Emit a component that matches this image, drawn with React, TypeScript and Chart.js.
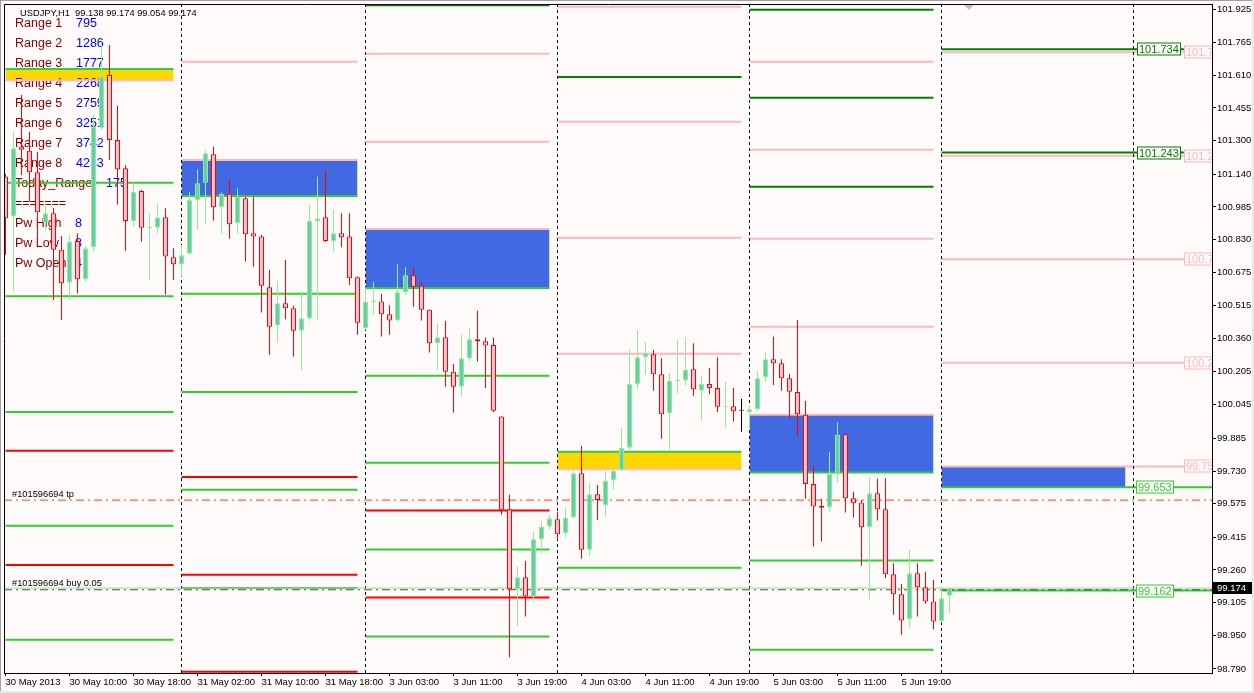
import React, { useEffect, useRef } from "react";
import { Chart, registerables } from "chart.js";

Chart.register(...registerables);

// ---------------- data ----------------
const titleText = "USDJPY,H1  99.138 99.174 99.054 99.174";

// H1 bars, index 0 = 30 May 2013 02:00 ... index 118 = 6 Jun 2013 01:00
const opens = [
  101.129, 100.939, 101.271, 101.252, 101.150, 100.910, 100.955, 100.781, 100.625, 100.823,
  100.641, 100.793, 101.361, 101.612, 101.303, 101.169, 100.918, 101.061, 100.884, 100.886,
  100.936, 100.746, 100.713, 100.762, 101.018, 101.100, 101.235, 100.983, 101.047, 100.907,
  101.026, 100.860, 100.844, 100.603, 100.421, 100.527, 100.504, 100.397, 100.456, 100.918,
  100.936, 100.823, 100.860, 100.844, 100.651, 100.409, 100.532, 100.535, 100.475, 100.445,
  100.580, 100.660, 100.610, 100.496, 100.337, 100.366, 100.202, 100.131, 100.266, 100.356,
  100.347, 100.329, 99.989, 99.549, 99.169, 99.226, 99.134, 99.406, 99.466, 99.501,
  99.435, 99.509, 99.720, 99.356, 99.620, 99.569, 99.685, 99.736, 99.841, 100.143,
  100.271, 100.285, 100.190, 100.005, 100.158, 100.162, 100.214, 100.112, 100.144, 100.124,
  100.036, 100.038, 100.016, 100.011, 100.024, 100.176, 100.261, 100.242, 100.171, 100.105,
  99.997, 99.668, 99.565, 99.558, 99.717, 99.905, 99.601, 99.580, 99.463, 99.625,
  99.549, 99.240, 99.145, 99.026, 99.245, 99.178, 99.110, 99.015, 99.138,
];
const highs = [
  101.142, 101.342, 101.517, 101.342, 101.246, 101.004, 100.980, 100.847, 100.852, 100.860,
  100.800, 101.422, 101.770, 101.754, 101.465, 101.184, 101.104, 101.066, 100.955, 101.002,
  100.979, 100.789, 100.804, 101.057, 101.164, 101.252, 101.271, 101.053, 101.118, 101.074,
  101.034, 101.034, 100.852, 100.686, 100.633, 100.733, 100.515, 100.582, 100.994, 101.129,
  101.161, 100.971, 100.955, 100.955, 100.654, 100.603, 100.630, 100.572, 100.518, 100.714,
  100.698, 100.701, 100.630, 100.497, 100.429, 100.443, 100.239, 100.377, 100.409, 100.491,
  100.364, 100.364, 99.990, 99.617, 99.276, 99.303, 99.442, 99.490, 99.522, 99.537,
  99.554, 99.732, 99.850, 99.672, 99.664, 99.731, 99.751, 99.934, 100.306, 100.401,
  100.342, 100.306, 100.266, 100.195, 100.353, 100.366, 100.337, 100.182, 100.219, 100.271,
  100.155, 100.124, 100.073, 100.043, 100.207, 100.293, 100.369, 100.261, 100.192, 100.448,
  100.063, 99.756, 99.598, 99.822, 99.962, 99.906, 99.632, 99.593, 99.701, 99.693,
  99.696, 99.292, 99.194, 99.356, 99.292, 99.252, 99.213, 99.185, 99.174,
];
const lows = [
  100.757, 100.582, 101.137, 101.010, 100.804, 100.876, 100.543, 100.448, 100.543, 100.575,
  100.630, 100.772, 101.351, 101.208, 100.996, 100.777, 100.891, 100.820, 100.638, 100.860,
  100.567, 100.638, 100.654, 100.757, 100.876, 100.904, 100.920, 100.860, 100.833, 100.860,
  100.725, 100.701, 100.483, 100.282, 100.340, 100.451, 100.274, 100.207, 100.445, 100.448,
  100.819, 100.772, 100.793, 100.614, 100.377, 100.401, 100.472, 100.369, 100.377, 100.440,
  100.567, 100.511, 100.445, 100.293, 100.211, 100.131, 100.008, 100.084, 100.250, 100.250,
  100.124, 100.011, 99.522, 98.846, 98.991, 99.039, 99.110, 99.340, 99.451, 99.403,
  99.416, 99.503, 99.313, 99.327, 99.498, 99.514, 99.641, 99.733, 99.831, 100.119,
  100.187, 100.112, 99.883, 99.835, 100.100, 100.139, 100.088, 99.970, 100.095, 100.010,
  99.936, 99.965, 99.917, 99.941, 100.012, 100.155, 100.139, 100.112, 99.981, 99.897,
  99.598, 99.371, 99.395, 99.537, 99.675, 99.533, 99.509, 99.280, 99.121, 99.495,
  99.221, 99.047, 98.952, 98.988, 99.039, 99.099, 98.979, 99.010, 99.054,
];
const closes = [
  100.931, 101.264, 101.256, 101.150, 100.960, 100.955, 100.781, 100.622, 100.820, 100.641,
  100.789, 101.366, 101.604, 101.303, 101.164, 100.918, 101.057, 100.886, 100.891, 100.934,
  100.749, 100.713, 100.755, 101.018, 101.097, 101.240, 100.983, 101.047, 100.903, 101.034,
  100.855, 100.844, 100.610, 100.416, 100.527, 100.504, 100.397, 100.456, 100.918, 100.931,
  100.823, 100.860, 100.841, 100.646, 100.435, 100.535, 100.540, 100.475, 100.445, 100.580,
  100.660, 100.606, 100.496, 100.337, 100.366, 100.202, 100.131, 100.266, 100.356, 100.347,
  100.326, 100.017, 99.546, 99.169, 99.226, 99.134, 99.406, 99.466, 99.506, 99.430,
  99.509, 99.720, 99.356, 99.620, 99.593, 99.685, 99.732, 99.841, 100.143, 100.271,
  100.290, 100.190, 100.000, 100.160, 100.163, 100.211, 100.119, 100.143, 100.124, 100.036,
  100.040, 100.014, 100.016, 100.023, 100.171, 100.261, 100.242, 100.171, 100.107, 100.000,
  99.668, 99.561, 99.556, 99.717, 99.902, 99.601, 99.577, 99.463, 99.625, 99.549,
  99.240, 99.145, 99.020, 99.245, 99.178, 99.110, 99.015, 99.126, 99.174,
];

const xTickBars = [0, 8, 16, 24, 32, 40, 48, 56, 64, 72, 80, 88, 96, 104, 112];
const xTickLabels = [
  "30 May 2013", "30 May 10:00", "30 May 18:00", "31 May 02:00", "31 May 10:00",
  "31 May 18:00", "3 Jun 03:00", "3 Jun 11:00", "3 Jun 19:00", "4 Jun 03:00",
  "4 Jun 11:00", "4 Jun 19:00", "5 Jun 03:00", "5 Jun 11:00", "5 Jun 19:00",
];
const yTickLabels = [
  "101.925", "101.765", "101.610", "101.455", "101.300", "101.140", "100.985",
  "100.830", "100.675", "100.515", "100.360", "100.205", "100.045", "99.885",
  "99.730", "99.575", "99.415", "99.260", "99.105", "98.950", "98.790",
];
const yTickValues = yTickLabels.map((s) => parseFloat(s));

const xMin = -0.1875;
const xMax = 150.8125;
const yMin = 98.7706;
const yMax = 101.9488;

const daySeparatorBars = [22, 45, 69, 93, 117, 141];

// [startBar, endBar, price]
const greenLevels = [
  [0, 21, 101.64], [0, 21, 101.1], [0, 21, 100.56], [0, 21, 100.011], [0, 21, 99.47], [0, 21, 98.928],
  [22, 44, 101.037], [22, 44, 100.572], [22, 44, 100.106], [22, 44, 99.641], [22, 44, 99.175],
  [45, 68, 100.6], [45, 68, 100.183], [45, 68, 99.77], [45, 68, 99.357], [45, 68, 98.944],
  [69, 92, 99.822], [69, 92, 99.271],
  [93, 116, 99.723], [93, 116, 99.305], [93, 116, 98.881],
  [117, 151, 99.653], [117, 151, 99.162],
];
const redLevels = [
  [0, 21, 99.827], [0, 21, 99.284],
  [22, 44, 99.702], [22, 44, 99.237], [22, 44, 98.776],
  [45, 68, 99.542], [45, 68, 99.129],
];
const pinkLevels = [
  [0, 21, 101.587],
  [22, 44, 101.675], [22, 44, 101.208],
  [45, 68, 101.713], [45, 68, 101.294], [45, 68, 100.88],
  [69, 92, 101.936], [69, 92, 101.389], [69, 92, 100.838], [69, 92, 100.287], [69, 92, 99.739],
  [93, 116, 101.674], [93, 116, 101.256], [93, 116, 100.834], [93, 116, 100.416], [93, 116, 99.997],
  [117, 147.3, 101.72], [117, 147.3, 101.228], [117, 147.3, 100.736], [117, 147.3, 100.244], [117, 147.3, 99.752],
];
const darkGreenLevels = [
  [45, 68, 101.943],
  [69, 92, 101.602],
  [93, 116, 101.921], [93, 116, 101.503], [93, 116, 101.081],
  [117, 147.3, 101.734], [117, 147.3, 101.243],
];

// [startBar, endBar, top, bottom]
const blueBoxes = [
  [22, 44, 101.208, 101.037],
  [45, 68, 100.88, 100.6],
  [93, 116, 99.997, 99.723],
  [117, 140, 99.752, 99.653],
];
const goldBoxes = [
  [0, 21, 101.64, 101.587],
  [69, 92, 99.822, 99.739],
];

const tpPrice = 99.592;
const buyPrice = 99.166;
const bidPrice = 99.174;
const tpText = "#101596694 tp";
const buyText = "#101596694 buy 0.05";
const bidText = "99.174";

const rangeNames = [
  "Range 1", "Range 2", "Range 3", "Range 4", "Range 5", "Range 6", "Range 7", "Range 8",
  "Today_Range", "=======", "Pw High", "Pw Low", "Pw Open",
];
const rangeValues = ["795", "1286", "1777", "2268", "2759", "3251", "3742", "4233", "175", "", "8", "8", "4"];

// right-side price tags: [bar, price, text]
const darkGreenTags = [[141.45, 101.734, "101.734"], [141.45, 101.243, "101.243"]];
const greenTags = [[141.35, 99.653, "99.653"], [141.35, 99.162, "99.162"]];
const pinkTags = [
  [147.3, 101.72, "101.720"], [147.3, 101.228, "101.228"], [147.3, 100.736, "100.736"],
  [147.3, 100.244, "100.244"], [147.3, 99.752, "99.752"],
];
const shiftMarkerBar = 120.44;

// ---------------- styling ----------------
const BG = "#FFFAFA";
const C_GREEN = "#32CD32";
const C_RED = "#FF0000";
const C_PINK = "#FFB6C1";
const C_DKGREEN = "#008000";
const C_BLUE = "#4169E1";
const C_GOLD = "#FFD700";
const BULL_FILL = "#66CDAA";
const BULL_LINE = "#90EE90";
const BEAR_FILL = "#FFC0CB";
const BEAR_LINE = "#FF0000";
const FONT = '"Liberation Sans", Arial, sans-serif';

function drawTag(ctx: CanvasRenderingContext2D, chart: any, bar: number, price: number, text: string, color: string) {
  const x = Math.round(chart.scales.x.getPixelForValue(bar)) + 0.5;
  const y = Math.round(chart.scales.y.getPixelForValue(price));
  ctx.font = `11px ${FONT}`;
  const w = Math.round(ctx.measureText(text).width) + 3;
  ctx.fillStyle = BG;
  ctx.fillRect(x, y - 6.5, w, 13);
  ctx.strokeStyle = color;
  ctx.lineWidth = 1;
  ctx.strokeRect(x, y - 6, w, 12);
  ctx.fillStyle = color;
  ctx.textBaseline = "middle";
  ctx.textAlign = "left";
  ctx.fillText(text, x + 1.5, y + 0.5);
}

const mtPlugin = {
  id: "mt4",
  beforeDraw(chart: any) {
    const { ctx, width, height } = chart;
    ctx.save();
    ctx.fillStyle = BG;
    ctx.fillRect(0, 0, width, height);
    ctx.fillStyle = "#A0A0A0";
    ctx.fillRect(0, 0, width, 1);
    ctx.fillRect(0, 0, 1, height);
    ctx.fillStyle = "#E8E8E8";
    ctx.fillRect(0, height - 2, width, 2);
    ctx.fillRect(width - 2, 0, 2, height);
    ctx.restore();
  },
  afterDatasetDraw(chart: any, args: any) {
    const ds = chart.data.datasets[args.index];
    if (!ds || ds.label !== "textLayer") return;
    const { ctx, chartArea } = chart;
    const ys = chart.scales.y;
    ctx.save();
    ctx.textBaseline = "middle";
    ctx.textAlign = "left";
    ctx.font = `12.5px ${FONT}`;
    rangeNames.forEach((name, k) => {
      const y = chartArea.top + 20 + 20 * k;
      ctx.fillStyle = "#800000";
      ctx.fillText(name, chartArea.left + 11, y);
      const vx = k < 8 ? 72 : k === 8 ? 102 : 71;
      ctx.fillStyle = "#0000FF";
      ctx.fillText(rangeValues[k], chartArea.left + vx, y);
    });
    ctx.font = `9.3px ${FONT}`;
    ctx.fillStyle = "#000";
    ctx.fillText(tpText, chartArea.left + 8, ys.getPixelForValue(tpPrice) - 6);
    ctx.fillText(buyText, chartArea.left + 8, ys.getPixelForValue(buyPrice) - 6);
    ctx.restore();
  },
  afterDatasetsDraw(chart: any) {
    const { ctx, chartArea } = chart;
    ctx.save();
    ctx.beginPath();
    ctx.rect(chartArea.left, chartArea.top, chartArea.right - chartArea.left, chartArea.bottom - chartArea.top);
    ctx.clip();
    darkGreenTags.forEach((t: any) => drawTag(ctx, chart, t[0], t[1], t[2], C_DKGREEN));
    pinkTags.forEach((t: any) => drawTag(ctx, chart, t[0], t[1], t[2], C_PINK));
    greenTags.forEach((t: any) => drawTag(ctx, chart, t[0], t[1], t[2], C_GREEN));
    ctx.restore();

    ctx.save();
    ctx.font = `9.3px ${FONT}`;
    ctx.fillStyle = "#000";
    ctx.textBaseline = "middle";
    ctx.textAlign = "left";
    ctx.fillText(titleText, chartArea.left + 16, chartArea.top + 9);
    ctx.restore();
  },
  afterDraw(chart: any) {
    const { ctx, chartArea, width } = chart;
    ctx.save();
    ctx.strokeStyle = "#000";
    ctx.lineWidth = 1;
    ctx.beginPath();
    ctx.moveTo(chartArea.left + 0.5, chartArea.bottom);
    ctx.lineTo(chartArea.left + 0.5, chartArea.top + 0.5);
    ctx.lineTo(chartArea.right, chartArea.top + 0.5);
    ctx.stroke();
    // chart shift marker
    const sx = chart.scales.x.getPixelForValue(shiftMarkerBar);
    ctx.fillStyle = "#C0C0C0";
    ctx.beginPath();
    ctx.moveTo(sx - 5, chartArea.top + 1);
    ctx.lineTo(sx + 5, chartArea.top + 1);
    ctx.lineTo(sx, chartArea.top + 6);
    ctx.closePath();
    ctx.fill();
    // bid price box on axis
    const by = Math.round(chart.scales.y.getPixelForValue(bidPrice));
    ctx.fillStyle = "#000";
    ctx.fillRect(chartArea.right + 1, by - 6, width - chartArea.right - 3, 12);
    ctx.fillStyle = "#FFF";
    ctx.font = `9.5px ${FONT}`;
    ctx.textBaseline = "middle";
    ctx.textAlign = "left";
    ctx.fillText(bidText, chartArea.right + 5, by + 0.5);
    ctx.restore();
  },
};

function levelDatasets(levels: number[][], color: string) {
  return levels.map((l) => ({
    type: "line" as const,
    data: [{ x: l[0], y: l[2] }, { x: l[1], y: l[2] }],
    borderColor: color,
    borderWidth: 2,
    pointRadius: 0,
    fill: false,
    order: 10,
  }));
}

function boxDatasets(boxes: number[][], color: string) {
  return boxes.map((b) => ({
    type: "line" as const,
    data: [{ x: b[0], y: b[2] }, { x: b[1], y: b[2] }],
    borderColor: "rgba(0,0,0,0)",
    borderWidth: 1,
    backgroundColor: color,
    fill: { value: b[3] },
    pointRadius: 0,
    order: 20,
  }));
}

export default function App() {
  const ref = useRef<HTMLCanvasElement>(null);

  useEffect(() => {
    const canvas = ref.current;
    if (!canvas) return;
    const idx = opens.map((_, i) => i);
    const kind = idx.map((i) => (closes[i] > opens[i] ? 1 : closes[i] < opens[i] ? -1 : 0));
    const wickColors = kind.map((k) => (k > 0 ? BULL_LINE : k < 0 ? BEAR_LINE : "#000"));
    const bodyFill = kind.map((k) => (k > 0 ? BULL_FILL : k < 0 ? BEAR_FILL : "#000"));

    const datasets: any[] = [
      ...boxDatasets(blueBoxes, C_BLUE),
      ...boxDatasets(goldBoxes, C_GOLD),
      { type: "line", label: "textLayer", data: [], order: 15, pointRadius: 0 },
      ...levelDatasets(greenLevels, C_GREEN),
      ...levelDatasets(redLevels, C_RED),
      ...levelDatasets(pinkLevels, C_PINK),
      ...levelDatasets(darkGreenLevels, C_DKGREEN),
      ...daySeparatorBars.map((b) => ({
        type: "line",
        data: [{ x: b, y: yMin }, { x: b, y: yMax }],
        borderColor: "#000",
        borderWidth: 1,
        borderDash: [3, 3],
        pointRadius: 0,
        fill: false,
        order: 9,
      })),
      {
        type: "line",
        data: [{ x: xMin, y: bidPrice }, { x: xMax, y: bidPrice }],
        borderColor: "#C0C0C0",
        borderWidth: 1,
        pointRadius: 0,
        fill: false,
        order: 8,
      },
      {
        type: "line",
        data: [{ x: xMin, y: tpPrice }, { x: xMax, y: tpPrice }],
        borderColor: "#FF4500",
        borderWidth: 1,
        borderDash: [8, 4, 2, 4],
        pointRadius: 0,
        fill: false,
        order: 8,
      },
      {
        type: "line",
        data: [{ x: xMin, y: buyPrice }, { x: xMax, y: buyPrice }],
        borderColor: C_DKGREEN,
        borderWidth: 1,
        borderDash: [8, 4, 2, 4],
        pointRadius: 0,
        fill: false,
        order: 8,
      },
      {
        type: "bar",
        data: idx.map((i) => ({ x: i, y: [lows[i], highs[i]] })),
        backgroundColor: wickColors,
        borderWidth: 0,
        barThickness: 1,
        grouped: false,
        inflateAmount: 0,
        order: 2,
      },
      {
        type: "bar",
        data: idx.map((i) => ({ x: i, y: [opens[i], closes[i]] })),
        backgroundColor: bodyFill,
        borderColor: wickColors,
        borderWidth: 1,
        borderSkipped: false,
        barThickness: 5,
        grouped: false,
        minBarLength: 1,
        inflateAmount: 0,
        order: 1,
      },
    ];

    const chart = new Chart(canvas, {
      type: "bar",
      data: { datasets },
      plugins: [mtPlugin],
      options: {
        responsive: false,
        animation: false,
        devicePixelRatio: 1,
        events: [],
        layout: { padding: { left: 4, top: 4, right: 0, bottom: 0 } },
        plugins: { legend: { display: false }, tooltip: { enabled: false } },
        scales: {
          x: {
            type: "linear",
            min: xMin,
            max: xMax,
            offset: false,
            afterBuildTicks: (axis: any) => {
              axis.ticks = xTickBars.map((v) => ({ value: v }));
            },
            afterFit: (axis: any) => {
              axis.height = 20;
              axis.paddingLeft = 0;
              axis.paddingRight = 0;
            },
            grid: { drawOnChartArea: false, drawTicks: true, tickLength: 3, color: "#000", offset: false },
            border: { display: true, color: "#000", width: 1 },
            ticks: {
              align: "start",
              padding: 1,
              maxRotation: 0,
              minRotation: 0,
              autoSkip: false,
              color: "#000",
              font: { family: FONT, size: 9.5 },
              callback: (v: any) => {
                const k = xTickBars.indexOf(Number(v));
                return k >= 0 ? xTickLabels[k] : "";
              },
            },
          },
          y: {
            type: "linear",
            position: "right",
            min: yMin,
            max: yMax,
            beginAtZero: false,
            afterBuildTicks: (axis: any) => {
              axis.ticks = yTickValues.map((v) => ({ value: v }));
            },
            afterFit: (axis: any) => {
              axis.width = 42;
              axis.paddingTop = 0;
              axis.paddingBottom = 0;
            },
            grid: { drawOnChartArea: false, drawTicks: true, tickLength: 4, color: "#000" },
            border: { display: true, color: "#000", width: 1 },
            ticks: {
              padding: 1,
              autoSkip: false,
              color: "#000",
              font: { family: FONT, size: 9.5 },
              callback: (v: any) => {
                const k = yTickValues.indexOf(Number(v));
                return k >= 0 ? yTickLabels[k] : "";
              },
            },
          },
        },
      } as any,
    } as any);

    return () => chart.destroy();
  }, []);

  return (
    <div style={{ position: "absolute", left: 0, top: 0, width: 1254, height: 693, background: BG }}>
      <canvas ref={ref} width={1254} height={693} style={{ display: "block", width: 1254, height: 693 }} />
    </div>
  );
}
